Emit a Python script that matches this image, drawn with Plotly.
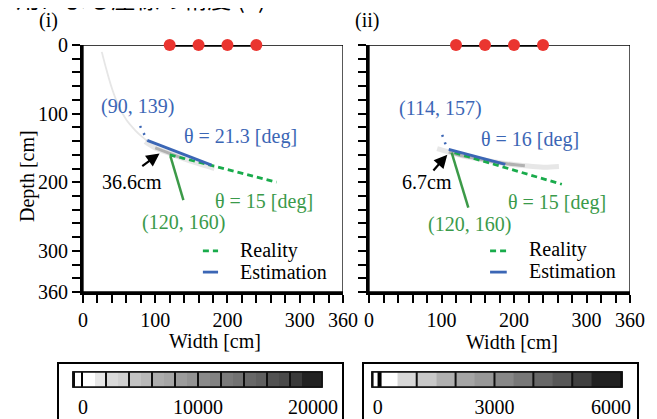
import plotly.graph_objects as go

W, H = 657, 419
OFF = 8  # page body margin offset of the rendered figure
FONT = "Liberation Serif"

# ---------------- data ----------------
tick_vals = list(range(0, 361, 20))
x_tick_text = ["0", "", "", "", "", "100", "", "", "", "", "200", "", "", "", "", "300", "", "", "360"]
y_tick_text = ["0", "", "", "", "", "100", "", "", "", "", "200", "", "", "", "", "300", "", "", "360"]

sensor_x = [120, 160, 200, 240]

# panel (i)
est1_x = [89, 178]
est1_y = [139, 175]
est1_dot_x = [79, 84, 89]
est1_dot_y = [118, 129, 139]
real1_x = [120, 268]
real1_y = [160, 200]
ptr1_x = [121, 139]
ptr1_y = [162, 226]
arc1_x = [26, 33, 40, 49, 60, 72, 82, 89]
arc1_y = [10, 38, 63, 88, 109, 124, 134, 140]
blob1_x = [86, 100, 120, 140, 160, 182]
blob1_y = [141, 150, 158, 166, 173, 180]
arrow1 = dict(tail=(80, 178), head=(106, 158))

# panel (ii)
est2_x = [110, 188]
est2_y = [152, 174]
est2_dot_x = [101, 105, 110]
est2_dot_y = [131, 143, 152]
real2_x = [118, 266]
real2_y = [157, 203]
ptr2_x = [114, 137]
ptr2_y = [157, 237]
blob2_x = [94, 110, 130, 160, 190, 215, 240, 262]
blob2_y = [151, 156, 162, 168, 173, 176, 178, 177]
arrow2 = dict(tail=(87, 185), head=(108, 160))

# colour bars
cb1_edges = [-700, -170] + list(range(0, 19001, 1000)) + [20780]
cb1_gray = [255, 0, 255, 232, 217, 208, 195, 185, 173, 166, 156, 147, 138, 130, 122, 114, 104, 96, 82, 74, 58, 34]
cb1_sep = list(range(2000, 18001, 2000))
cb1_ticks = [0, 10000, 20000]
cb1_labels = ["0", "10000", "20000"]

cb2_edges = [-110, -10, 100] + list(range(500, 5501, 500)) + [6230]
cb2_gray = [255, 0, 255, 216, 200, 176, 165, 152, 136, 120, 104, 88, 64, 34]
cb2_sep = [1000, 2000, 3000, 4000, 5000]
cb2_ticks = [0, 3000, 6000]
cb2_labels = ["0", "3000", "6000"]

BLUE = "#3b66b5"
GREEN_TXT = "#3a9a4a"
GREEN_DASH = "#19ab4b"
GREEN_LINE = "#3c9a48"
RED = "#ea3530"


def px(x):
    return (x - OFF) / W


def py(y):
    return 1 - (y - OFF) / H


fig = go.Figure()

panels = [
    dict(xa="x", ya="y", est=(est1_x, est1_y), dot=(est1_dot_x, est1_dot_y),
         real=(real1_x, real1_y), ptr=(ptr1_x, ptr1_y), arc=(arc1_x, arc1_y), blob=(blob1_x, blob1_y),
         arrow=arrow1),
    dict(xa="x2", ya="y2", est=(est2_x, est2_y), dot=(est2_dot_x, est2_dot_y),
         real=(real2_x, real2_y), ptr=(ptr2_x, ptr2_y), arc=None, blob=(blob2_x, blob2_y),
         arrow=arrow2),
]

annotations = []
shapes = []

for i, p in enumerate(panels):
    xa, ya = p["xa"], p["ya"]
    if p["arc"] is not None:
        fig.add_trace(go.Scatter(x=p["arc"][0], y=p["arc"][1], mode="lines", xaxis=xa, yaxis=ya,
                                 line=dict(color="#e6e6e6", width=1.8, shape="spline"), showlegend=False))
    bx, by = p["blob"]
    fig.add_trace(go.Scatter(x=bx, y=by, mode="lines", xaxis=xa, yaxis=ya,
                             line=dict(color="rgba(185,185,185,0.35)", width=5, shape="spline"), showlegend=False))
    fig.add_trace(go.Scatter(x=bx[1:-2], y=by[1:-2], mode="lines", xaxis=xa, yaxis=ya,
                             line=dict(color="rgba(110,110,110,0.45)", width=3, shape="spline"), showlegend=False))
    fig.add_trace(go.Scatter(x=p["real"][0], y=p["real"][1], mode="lines", xaxis=xa, yaxis=ya,
                             line=dict(color=GREEN_DASH, width=2.8, dash="6px,4px"), showlegend=False))
    fig.add_trace(go.Scatter(x=p["est"][0], y=p["est"][1], mode="lines", xaxis=xa, yaxis=ya,
                             line=dict(color=BLUE, width=2.8), showlegend=False))
    fig.add_trace(go.Scatter(x=p["dot"][0], y=p["dot"][1], mode="lines", xaxis=xa, yaxis=ya,
                             line=dict(color=BLUE, width=2.5, dash="2px,6px"), showlegend=False))
    fig.add_trace(go.Scatter(x=p["ptr"][0], y=p["ptr"][1], mode="lines", xaxis=xa, yaxis=ya,
                             line=dict(color=GREEN_LINE, width=2.5), showlegend=False))
    # sensor array on top edge
    fig.add_trace(go.Scatter(x=[sensor_x[0], sensor_x[-1]], y=[0, 0], mode="lines", xaxis=xa, yaxis=ya,
                             line=dict(color="black", width=3.5), cliponaxis=False, showlegend=False))
    fig.add_trace(go.Scatter(x=sensor_x, y=[0] * len(sensor_x), mode="markers", xaxis=xa, yaxis=ya,
                             marker=dict(color=RED, size=12, line=dict(width=0)), cliponaxis=False,
                             showlegend=False))
    # frame (thin top/right)
    shapes.append(dict(type="rect", xref=xa, yref=ya, x0=0, x1=360, y0=0, y1=360,
                       line=dict(color="black", width=1.3), layer="below"))
    # arrow
    t, h = p["arrow"]["tail"], p["arrow"]["head"]
    annotations.append(dict(x=h[0], y=h[1], ax=t[0], ay=t[1], xref=xa, yref=ya, axref=xa, ayref=ya,
                            showarrow=True, arrowhead=2, arrowsize=1.2, arrowwidth=2.2, arrowcolor="black",
                            text=""))

tf = dict(family=FONT, size=20, color="black")


def ann(text, x, y, xa, ya, color="black", xanchor="center"):
    annotations.append(dict(text=text, x=x, y=y, xref=xa, yref=ya, showarrow=False,
                            font=dict(family=FONT, size=20, color=color), xanchor=xanchor, yanchor="middle"))


# panel (i) labels
ann("(90, 139)", 75, 90, "x", "y", BLUE)
ann("θ = 21.3 [deg]", 218, 133, "x", "y", BLUE)
ann("36.6cm", 68, 200, "x", "y")
ann("θ = 15 [deg]", 251, 228, "x", "y", GREEN_TXT)
ann("(120, 160)", 139, 258, "x", "y", GREEN_TXT)
ann("Reality", 214, 300, "x", "y", xanchor="left")
ann("Estimation", 214, 331, "x", "y", xanchor="left")
# panel (ii) labels
ann("(114, 157)", 98, 92, "x2", "y2", BLUE)
ann("θ = 16 [deg]", 222, 138, "x2", "y2", BLUE)
ann("6.7cm", 80, 200, "x2", "y2")
ann("θ = 15 [deg]", 259, 229, "x2", "y2", GREEN_TXT)
ann("(120, 160)", 139, 262, "x2", "y2", GREEN_TXT)
ann("Reality", 218, 298, "x2", "y2", xanchor="left")
ann("Estimation", 218, 329, "x2", "y2", xanchor="left")

# legend samples
for xa, ya, x0, x1 in [("x", "y", 166, 187), ("x2", "y2", 167, 190)]:
    shapes.append(dict(type="line", xref=xa, yref=ya, x0=x0, x1=x1, y0=300, y1=300,
                       line=dict(color=GREEN_DASH, width=2.8, dash="6px,4px")))
    shapes.append(dict(type="line", xref=xa, yref=ya, x0=x0, x1=x1, y0=331, y1=331,
                       line=dict(color=BLUE, width=2.8)))


def pann(text, x, y, size=20, angle=0, family=FONT, xanchor="center", yanchor="middle"):
    annotations.append(dict(text=text, x=px(x), y=py(y), xref="paper", yref="paper", showarrow=False,
                            font=dict(family=family, size=size, color="black"), textangle=angle,
                            xanchor=xanchor, yanchor=yanchor))


pann("Depth [cm]", 27, 176, angle=-90)
pann("Width [cm]", 215, 341)
pann("Width [cm]", 512, 342)
pann("(i)", 48, 21)
pann("(ii)", 367, 21)
pann("用による座標の精度 (ii)", 14, -3, size=24, family="Noto Sans CJK JP", xanchor="left", yanchor="middle")


def gray_scale(vals):
    n = len(vals)
    cs = []
    for k, g in enumerate(vals):
        c = f"rgb({g},{g},{g})"
        cs.append([k / n, c])
        cs.append([(k + 1) / n, c])
    cs[-1][0] = 1.0
    return cs


for edges, grays, seps, xa, ya, box in [
    (cb1_edges, cb1_gray, cb1_sep, "x3", "y3", (58, 343)),
    (cb2_edges, cb2_gray, cb2_sep, "x4", "y4", (363, 638)),
]:
    n = len(grays)
    fig.add_trace(go.Heatmap(z=[[k + 0.5 for k in range(n)]], x=edges, y=[0, 1], xaxis=xa, yaxis=ya,
                             colorscale=gray_scale(grays), zmin=0, zmax=n, showscale=False, hoverinfo="skip"))
    shapes.append(dict(type="rect", xref=f"{xa} domain", yref=f"{ya} domain", x0=0, x1=1, y0=0, y1=1,
                       fillcolor="black", line=dict(color="black", width=1.5), layer="below"))
    shapes.append(dict(type="rect", xref=f"{xa} domain", yref=f"{ya} domain", x0=0, x1=1, y0=0, y1=1,
                       line=dict(color="#111", width=1.5), layer="above"))
    for s in seps:
        shapes.append(dict(type="line", xref=xa, yref=f"{ya} domain", x0=s, x1=s, y0=0, y1=1,
                           line=dict(color="#111", width=2), layer="above"))
    shapes.append(dict(type="rect", xref="paper", yref="paper", x0=px(box[0]), x1=px(box[1]),
                       y0=py(440), y1=py(363), line=dict(color="black", width=2)))

common_x = dict(range=[0, 360], tickmode="array", tickvals=tick_vals, ticktext=x_tick_text,
                ticks="outside", ticklen=8, tickwidth=2, tickcolor="black",
                showline=True, linecolor="black", linewidth=3, showgrid=False, zeroline=False,
                tickfont=tf, fixedrange=True, automargin=False)
common_y = dict(range=[360, 0], tickmode="array", tickvals=tick_vals, ticktext=y_tick_text,
                ticks="outside", ticklen=8, tickwidth=2, tickcolor="black",
                showline=True, linecolor="black", linewidth=3, showgrid=False, zeroline=False,
                tickfont=tf, fixedrange=True, automargin=False)
cb_x = dict(tickmode="array", ticks="outside", ticklen=2, tickcolor="rgba(0,0,0,0)",
            showline=False, showgrid=False, zeroline=False, tickfont=tf, fixedrange=True, automargin=False)
cb_y = dict(range=[0, 1], visible=False, fixedrange=True, automargin=False)

fig.update_layout(
    template="none",
    width=W, height=H, margin=dict(l=0, r=0, t=0, b=0, pad=0, autoexpand=False),
    paper_bgcolor="white", plot_bgcolor="rgba(0,0,0,0)",
    font=dict(family=FONT, size=20, color="black"),
    showlegend=False,
    xaxis=dict(domain=[px(83), px(343)], anchor="y", **common_x),
    yaxis=dict(domain=[py(292), py(45)], anchor="x", **common_y),
    xaxis2=dict(domain=[px(369), px(630)], anchor="y2", **common_x),
    yaxis2=dict(domain=[py(292), py(45)], anchor="x2", showticklabels=False, **common_y),
    xaxis3=dict(domain=[px(73), px(322)], anchor="y3", range=[-870, 20780],
                tickvals=cb1_ticks, ticktext=cb1_labels, **cb_x),
    yaxis3=dict(domain=[py(387), py(372)], anchor="x3", **cb_y),
    xaxis4=dict(domain=[px(372), px(622)], anchor="y4", range=[-150, 6280],
                tickvals=cb2_ticks, ticktext=cb2_labels, **cb_x),
    yaxis4=dict(domain=[py(387), py(372)], anchor="x4", **cb_y),
    annotations=annotations,
    shapes=shapes,
)

fig.write_html("out.html")
